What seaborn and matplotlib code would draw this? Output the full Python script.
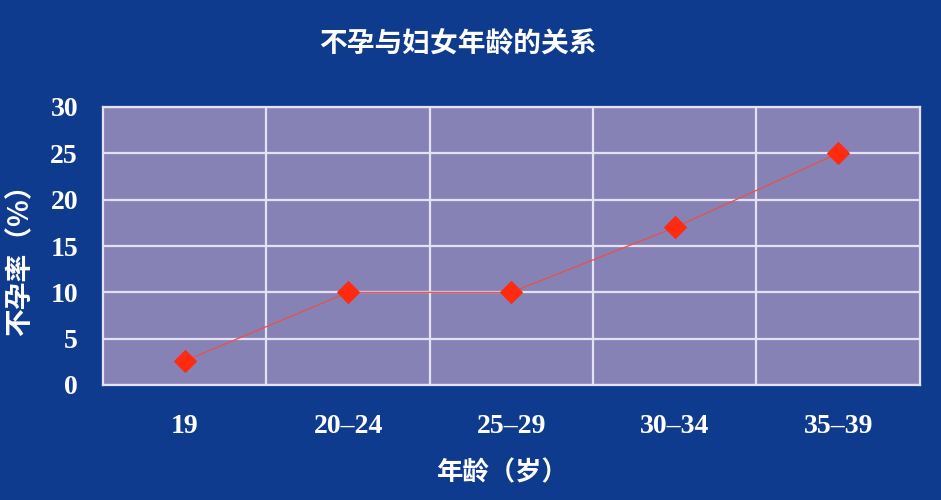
import matplotlib
matplotlib.use("Agg")
import matplotlib.pyplot as plt
import seaborn as sns
import pandas as pd
from matplotlib.ticker import FixedLocator

# --- Data ---
AGE_GROUPS = ["19", "20–24", "25–29", "30–34", "35–39"]
INFERTILITY_RATE = [2.6, 10, 10, 17, 25]
Y_TICKS = [0, 5, 10, 15, 20, 25, 30]

TITLE = "不孕与妇女年龄的关系"
XLABEL = "年龄（岁）"
YLABEL = "不孕率（%）"

BG = "#0f3b8e"
PANEL = "#8782b6"
GRID = "#e4e2f2"

sns.set_style("white")
plt.rcParams["font.family"] = ["Noto Sans CJK SC", "DejaVu Sans"]

df = pd.DataFrame({"age": AGE_GROUPS, "rate": INFERTILITY_RATE})

fig = plt.figure(figsize=(9.41, 5.0), dpi=100, facecolor=BG)
ax = fig.add_axes([0.1095, 0.23, 0.868, 0.556])
ax.set_facecolor(PANEL)

sns.lineplot(data=df, x="age", y="rate", ax=ax, color="#e8504a", linewidth=0.9,
             marker="D", markersize=11, markerfacecolor="#ff2a10",
             markeredgecolor="#ff2a10", sort=False)

ax.set_xlim(-0.5, len(AGE_GROUPS) - 0.5)
ax.set_ylim(0, 30)
ax.set_yticks(Y_TICKS)
ax.xaxis.set_minor_locator(FixedLocator([i + 0.5 for i in range(len(AGE_GROUPS) - 1)]))
ax.grid(True, which="major", axis="y", color=GRID, linewidth=1.6)
ax.grid(True, which="minor", axis="x", color=GRID, linewidth=1.6)
ax.set_axisbelow(True)
for s in ax.spines.values():
    s.set_color(GRID)
    s.set_linewidth(1.6)

ax.tick_params(axis="both", which="both", length=0, colors="white")
ax.tick_params(axis="y", pad=18)
ax.tick_params(axis="x", pad=21)
for lab in ax.get_xticklabels() + ax.get_yticklabels():
    lab.set_family("Liberation Serif")
    lab.set_fontweight("bold")
    lab.set_fontsize(20)

ax.set_xlabel("")
ax.set_ylabel("")
fig.text(503 / 941, 1 - 473 / 500, XLABEL, color="white", fontsize=19,
         fontweight="bold", ha="center", va="center")
fig.text(20 / 941, 1 - 253 / 500, YLABEL, color="white", fontsize=20,
         fontweight="bold", ha="center", va="center", rotation=90)
fig.text(458 / 941, 1 - 45 / 500, TITLE, color="white", fontsize=20,
         fontweight="bold", ha="center", va="center")

fig.savefig("out.png", dpi=100, facecolor=BG)
